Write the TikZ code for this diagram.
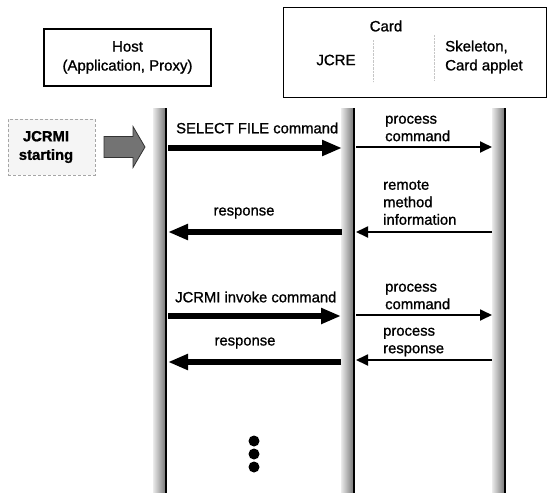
\documentclass[tikz,border=0pt]{standalone}
\usepackage{fontspec}
\setmainfont{Liberation Sans}[FakeBold=1.1]
\usetikzlibrary{arrows.meta,calc}
\begin{document}
\begin{tikzpicture}[x=1pt,y=-1pt,
  lbl/.style={font=\fontsize{14.8}{17.5}\selectfont, inner sep=0pt, align=left},
  hdr/.style={font=\fontsize{15}{19}\selectfont, inner sep=0pt, align=center},
  bigarrow/.style={line width=5.5pt, -{Triangle[length=20pt,width=15pt]}},
  smallarrow/.style={line width=1.8pt, -{Triangle[length=12pt,width=11pt]}},
  band/.style={left color=black!8, right color=black!55},
  edge/.style={line width=2.2pt},
  dot/.style={circle, fill=black, inner sep=0pt, minimum size=11pt}]
\useasboundingbox (0,0) rectangle (547,493);

% header boxes
\node[draw, line width=1.2pt, minimum width=167pt, minimum height=57pt, hdr] (host) at (127.5,57.5) {Host\\(Application, Proxy)};
\node[draw, line width=1.2pt, minimum width=263pt, minimum height=90pt, anchor=north west, inner sep=0pt] (card) at (283,7) {};
\node[hdr] (cardlbl) at (386,26) {Card};
\node[hdr] (jcre) at (336,60) {JCRE};
\node[hdr, align=left, anchor=west] (skel) at (445,57) {Skeleton,\\Card applet};
\draw[gray!45, densely dotted] (373,40) -- (373,82);
\draw[gray!45, densely dotted] (434,35) -- (434,80);

% lifelines
\coordinate (hT) at (166,108); \coordinate (hB) at (166,493);
\coordinate (jT) at (354,108); \coordinate (jB) at (354,493);
\coordinate (cT) at (505,108); \coordinate (cB) at (505,493);
\shade[band] ($(hT)+(-13,0)$) rectangle (hB);
\shade[band] ($(jT)+(-13,0)$) rectangle (jB);
\shade[band] ($(cT)+(-13,0)$) rectangle (cB);
\draw[edge] (hT) -- (hB);
\draw[edge] (jT) -- (jB);
\draw[edge] (cT) -- (cB);

% JCRMI starting
\node[draw=gray!70, densely dashed, line width=0.8pt, fill=black!4, minimum width=87pt, minimum height=56pt, inner sep=0pt] (start) at (51.5,147) {};
\node[font=\fontsize{14.8}{18.5}\selectfont\bfseries, align=center, inner sep=0pt] (starttxt) at (46,147) {JCRMI\\starting};
\coordinate (gaS) at (104,147);
\coordinate (gaT) at (145,147);
\fill[black!55, draw=black!80, line width=0.8pt]
  ($(gaS)+(0,-10.5)$) -- ($(gaT)+(-12,-10.5)$) -- ($(gaT)+(-12,-20.5)$) -- (gaT)
  -- ($(gaT)+(-12,20.5)$) -- ($(gaT)+(-12,10.5)$) -- ($(gaS)+(0,10.5)$) -- cycle;

% message end points
\coordinate (h1) at (168,148); \coordinate (j1) at (342,148);
\coordinate (j2) at (356,147); \coordinate (c2) at (492,147);
\coordinate (c3) at (492,232); \coordinate (j3) at (356,232);
\coordinate (j4) at (342,232); \coordinate (h4) at (168,232);
\coordinate (h5) at (168,316); \coordinate (j5) at (341,316);
\coordinate (j6) at (356,315); \coordinate (c6) at (492,315);
\coordinate (c7) at (492,360); \coordinate (j7) at (356,360);
\coordinate (j8) at (341,362); \coordinate (h8) at (168,362);

\draw[bigarrow] (h1) -- (j1);
\draw[smallarrow] (j2) -- (c2);
\draw[smallarrow] (c3) -- (j3);
\draw[bigarrow] (j4) -- (h4);
\draw[bigarrow] (h5) -- (j5);
\draw[smallarrow] (j6) -- (c6);
\draw[smallarrow] (c7) -- (j7);
\draw[bigarrow] (j8) -- (h8);

% labels
\node[lbl, anchor=west] (l1) at (176,128) {SELECT FILE command};
\node[lbl, anchor=west] (l2) at (385,128.5) {process\\command};
\node[lbl, anchor=west] (l3) at (383,202.5) {remote\\method\\information};
\node[lbl] (l4) at (244,213) {response};
\node[lbl, anchor=west] (l5) at (175,297) {JCRMI invoke command};
\node[lbl, anchor=west] (l6) at (385,296.5) {process\\command};
\node[lbl, anchor=west] (l7) at (383,342) {process\\response};
\node[lbl] (l8) at (245,343) {response};

% continuation dots
\node[dot] (d1) at (254,441) {};
\node[dot] (d2) at (254,454) {};
\node[dot] (d3) at (254,467) {};
\end{tikzpicture}
\end{document}
